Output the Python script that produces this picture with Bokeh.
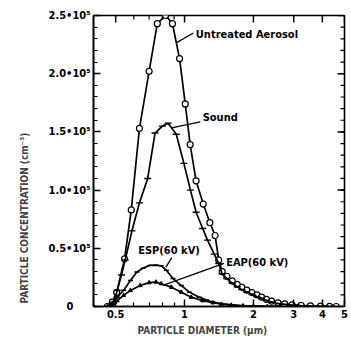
import math
from bokeh.plotting import figure
from bokeh.models import FixedTicker, Label, Range1d, Title
from bokeh.embed import file_html
from bokeh.resources import INLINE

FONT = "DejaVu Sans Condensed"

# ---- data (particle diameter in um, concentration in cm^-3) ----
untreated_x = [0.46, 0.483, 0.505, 0.547, 0.585, 0.635, 0.70, 0.76, 0.826, 0.885, 0.951, 1.007,
               1.058, 1.123, 1.207, 1.29, 1.36, 1.41, 1.46, 1.53, 1.615, 1.70, 1.78, 1.87, 1.97,
               2.07, 2.17, 2.28, 2.40, 2.56, 2.74, 2.95, 3.23, 3.55, 3.93, 4.3, 4.6]
untreated_y = [0, 3700, 12000, 41000, 83000, 153000, 202000, 243000, 250000, 243000, 213000, 174000,
               139000, 108000, 88000, 72000, 61000, 40000, 30000, 26000, 22000, 19000, 16500, 14000, 12000,
               10000, 8000, 6200, 4600, 3200, 2200, 1400, 900, 500, 300, 100, 0]

sound_x = [0.46, 0.49, 0.508, 0.53, 0.55, 0.589, 0.635, 0.69, 0.743, 0.80, 0.848, 0.92, 0.993,
           1.061, 1.123, 1.2, 1.26, 1.347, 1.41, 1.46, 1.53, 1.615, 1.70, 1.78, 1.87, 1.97,
           2.07, 2.17, 2.28, 2.40, 2.56, 2.74, 2.95, 3.23, 3.55, 3.93, 4.3, 4.6]
sound_y = [0, 3000, 14000, 27000, 40000, 65000, 89000, 110000, 149000, 155000, 157500, 148000, 123000,
           100000, 81000, 67000, 57000, 45000, 37000, 28000, 24000, 20000, 17000, 14500, 12500, 10500,
           8500, 7000, 5200, 3800, 2600, 1800, 1100, 700, 400, 200, 50, 0]

esp_x = [0.46, 0.483, 0.508, 0.542, 0.58, 0.619, 0.66, 0.705, 0.75, 0.79, 0.834, 0.89, 0.968,
         1.05, 1.16, 1.25, 1.33, 1.45, 1.56, 1.7, 1.9, 2.1, 2.4, 2.8]
esp_y = [0, 3700, 8000, 14000, 22400, 29600, 33000, 35300, 35500, 35000, 31000, 24000, 18000,
         12300, 8000, 5500, 3700, 2500, 1700, 1000, 600, 300, 100, 0]

eap_x = [0.46, 0.483, 0.508, 0.542, 0.58, 0.64, 0.70, 0.75, 0.79, 0.876, 0.968, 1.07, 1.2,
         1.33, 1.45, 1.6, 1.8, 2.0, 2.3, 2.6]
eap_y = [0, 1000, 5000, 9500, 13800, 18000, 20500, 21000, 19600, 16600, 12300, 8000, 5000,
         3200, 2000, 1200, 600, 300, 100, 0]

X_MIN, X_MAX = 0.4, 5.0
Y_MIN, Y_MAX = 0, 250000
x_ticks = [0.5, 1, 2, 3, 4, 5]
x_tick_labels = ["0.5", "1", "2", "3", "4", "5"]
x_minor = [0.4, 0.6, 0.7, 0.8, 0.9]
y_ticks = [0, 50000, 100000, 150000, 200000, 250000]
y_tick_labels = ["0\u00a0\u00a0\u00a0\u00a0\u00a0", "0.5\u202210\u2075", "1.0\u202210\u2075",
                 "1.5\u202210\u2075", "2.0\u202210\u2075", "2.5\u202210\u2075"]
y_minor = list(range(0, 250001, 10000))

labels = ["Untreated Aerosol", "Sound", "ESP(60 kV)", "EAP(60 kV)"]
label_x = [1.12, 1.20, 0.627, 1.52]
label_y = [234000, 162000, 48500, 38000]
lead_x0 = [1.093, 1.172, 0.879, 1.487]
lead_y0 = [235000, 158600, 42000, 37000]
lead_x1 = [0.924, 0.879, 0.828, 0.804]
lead_y1 = [226700, 153400, 33600, 18100]

p = figure(width=351, height=341, x_axis_type="log",
           x_range=Range1d(X_MIN, X_MAX), y_range=Range1d(Y_MIN, Y_MAX),
           output_backend="svg", toolbar_location=None,
           min_border_left=93, min_border_right=7, min_border_top=15, min_border_bottom=35)
p.xgrid.visible = False
p.ygrid.visible = False
p.outline_line_color = "black"
p.outline_line_width = 1.6
p.background_fill_color = "white"
p.border_fill_color = "white"

p.xaxis.ticker = FixedTicker(ticks=x_ticks, minor_ticks=x_minor)
p.yaxis.ticker = FixedTicker(ticks=y_ticks, minor_ticks=y_minor)

for ax in p.axis:
    ax.major_tick_in = 7
    ax.major_tick_out = 0
    ax.minor_tick_in = 4
    ax.minor_tick_out = 0
    ax.major_tick_line_width = 1.5
    ax.minor_tick_line_width = 1.2
    ax.axis_line_width = 1.6
    ax.major_label_text_font = FONT
    ax.major_label_text_font_style = "bold"
    ax.major_label_text_color = "black"
    ax.major_label_text_font_size = "11px"
    ax.major_label_standoff = 3

p.xaxis.major_label_overrides = {t: s for t, s in zip(x_ticks, x_tick_labels)}
p.yaxis.major_label_overrides = {t: s for t, s in zip(y_ticks, y_tick_labels)}

# mirrored inward ticks on the top and right edges (clipped to the frame)
p.scatter([X_MAX] * len(y_ticks), y_ticks, marker="dash", size=14, line_color="black", line_width=1.5)
p.scatter([X_MAX] * len(y_minor), y_minor, marker="dash", size=8, line_color="black", line_width=1.2)
p.scatter(x_ticks, [Y_MAX] * len(x_ticks), marker="dash", angle=math.pi / 2, size=14,
          line_color="black", line_width=1.5)
p.scatter(x_minor, [Y_MAX] * len(x_minor), marker="dash", angle=math.pi / 2, size=8,
          line_color="black", line_width=1.2)

# curves
p.line(untreated_x, untreated_y, line_color="black", line_width=1.7)
p.scatter(untreated_x, untreated_y, marker="circle", size=6, fill_color="white",
          line_color="black", line_width=1.2)
p.line(sound_x, sound_y, line_color="black", line_width=1.7)
p.scatter(sound_x, sound_y, marker="dash", size=7, line_color="black", line_width=1.4)
p.line(esp_x, esp_y, line_color="black", line_width=1.7)
p.scatter(esp_x, esp_y, marker="dash", size=5, line_color="black", line_width=1.4)
p.line(eap_x, eap_y, line_color="black", line_width=1.7)
p.scatter(eap_x, eap_y, marker="triangle", size=4, fill_color="black", line_color="black")

# leader lines and labels
p.segment(lead_x0, lead_y0, lead_x1, lead_y1, line_color="black", line_width=1.2)
for t, lx, ly in zip(labels, label_x, label_y):
    p.add_layout(Label(x=lx, y=ly, text=t, text_font=FONT, text_font_style="bold",
                       text_font_size="11px", text_align="left", text_baseline="middle",
                       text_color="black"))

# axis titles
p.add_layout(Title(text="PARTICLE CONCENTRATION (cm\u207b\u00b3)", align="left", offset=3,
                   text_font=FONT, text_font_style="bold", text_font_size="10px",
                   standoff=32), "left")
p.add_layout(Title(text="PARTICLE DIAMETER (\u00b5m)", align="left", offset=44,
                   text_font=FONT, text_font_style="bold", text_font_size="10px",
                   standoff=4), "below")

open("out.html", "w").write(file_html(p, INLINE))
